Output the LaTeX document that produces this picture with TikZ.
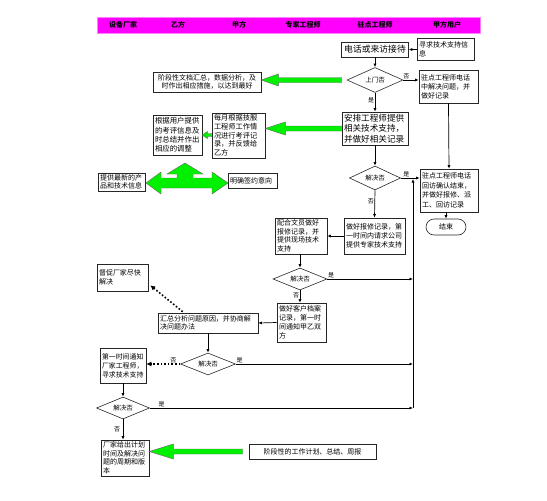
\documentclass[tikz,border=0pt]{standalone}
\usepackage{fontspec}
\setmainfont{Noto Sans CJK SC}
\usetikzlibrary{arrows.meta,shapes.geometric,calc}
\definecolor{hdrmag}{RGB}{255,0,255}
\definecolor{grn}{RGB}{0,240,0}
\newcommand\gleft[5]{%
  \path[garrow] let \p1=(#1), \p2=(#2) in
   (\x1,\y1) -- (\x1+#5pt,\y1+#4pt) -- (\x1+#5pt,\y1+#3pt) -- (\x2,\y1+#3pt)
   -- (\x2,\y1-#3pt) -- (\x1+#5pt,\y1-#3pt) -- (\x1+#5pt,\y1-#4pt) -- cycle;}
\begin{document}
\begin{tikzpicture}[x=1pt,y=-1pt,
  box/.style={draw=black!85, line width=0.6pt, fill=white, inner xsep=2pt, inner ysep=1pt,
    align=left, font=\fontsize{7}{8.8}\selectfont},
  dia/.style={draw=black!85, line width=0.6pt, diamond, aspect=2.4, inner sep=0pt,
    font=\fontsize{6.5}{7}\selectfont},
  lbl/.style={font=\fontsize{6}{7}\selectfont, inner sep=0.5pt},
  hd/.style={font=\fontsize{7}{8}\selectfont\bfseries, inner sep=0pt},
  conn/.style={draw=black, line width=0.7pt, -{Latex[length=3.5pt,width=3pt]}},
  dots/.style={draw=black, line width=1.6pt, dotted, -{Latex[length=5pt,width=5pt]}},
  garrow/.style={fill=grn, draw=black!60, line width=0.4pt}]
\path[use as bounding box] (0,0) rectangle (547,501);

% header
\node[draw=hdrmag!50!white, fill=hdrmag, minimum width=383pt, minimum height=16pt, inner sep=0pt] (hdr) at (288.5,25) {};
\node[hd] (h1) at (123,25) {设备厂家};
\node[hd] (h2) at (178,25) {乙方};
\node[hd] (h3) at (239,25) {甲方};
\node[hd] (h4) at (303,25) {专家工程师};
\node[hd] (h5) at (375,25) {驻点工程师};
\node[hd] (h6) at (447,25) {甲方用户};

% nodes
\node[box, font=\fontsize{8.8}{10}\selectfont, text width=63pt, minimum height=15pt, align=center] (n_phone) at (375,49.5) {电话或来访接待};
\node[box, text width=53pt, minimum height=22pt] (n_seek) at (445.5,49) {寻求技术支持信\\息};
\node[dia, minimum width=56pt, minimum height=25pt] (d_visit) at (375,80) {上门否};
\node[box, text width=55pt, minimum height=33pt, font=\fontsize{7}{9}\selectfont] (n_onsite) at (448.5,86.5) {驻点工程师电话\\中解决问题，并\\做好记录};
\node[box, text width=104pt, minimum height=20pt, align=center, font=\fontsize{7}{8}\selectfont] (n_doc) at (207,82) {阶段性文档汇总，数据分析，及\\时作出相应措施，以达到最好};
\node[box, font=\fontsize{8.6}{10.5}\selectfont, text width=62pt, minimum height=33pt] (n_arrange) at (375,128.5) {安排工程师提供\\相关技术支持，\\并做好相关记录};
\node[box, text width=49pt, minimum height=45pt, font=\fontsize{7.2}{8.7}\selectfont] (n_monthly) at (238.5,135.5) {每月根据技服\\工程师工作情\\况进行考评记\\录，并反馈给\\乙方};
\node[box, text width=45pt, minimum height=40pt, font=\fontsize{7.4}{9.4}\selectfont] (n_feedback) at (177.5,135) {根据用户提供\\的考评信息及\\时总结并作出\\相应的调整};
\node[box, text width=43pt, minimum height=18pt, font=\fontsize{7}{8}\selectfont] (n_latest) at (121.5,182) {提供最新的产\\品和技术信息};
\node[box, text width=45pt, minimum height=15pt] (n_sign) at (252.5,180.5) {明确签约意向};
\node[dia, minimum width=51pt, minimum height=24pt] (d_solve1) at (375,178) {解决否};
\node[box, text width=54pt, minimum height=43pt, font=\fontsize{7}{9.5}\selectfont] (n_revisit) at (449,190.5) {驻点工程师电话\\回访确认结束，\\并做好报修、派\\工、回访记录};
\node[draw=black!85, line width=0.6pt, rounded corners=8pt, minimum width=40pt, minimum height=16pt, inner sep=0pt, font=\fontsize{7}{8}\selectfont] (n_end) at (446,227) {结束};
\node[box, text width=57pt, minimum height=36pt, font=\fontsize{7}{9}\selectfont] (n_report) at (374.5,236) {做好报修记录，第\\一时间内请求公司\\提供专家技术支持};
\node[box, text width=48pt, minimum height=36pt, font=\fontsize{7}{8.5}\selectfont] (n_assist) at (301,236) {配合文员做好\\报修记录，并\\提供现场技术\\支持};
\node[dia, minimum width=54pt, minimum height=22pt] (d_solve2) at (300,279) {解决否};
\node[box, text width=45pt, minimum height=39pt, font=\fontsize{7}{9}\selectfont] (n_archive) at (301.5,322.5) {做好客户档案\\记录，第一时\\间通知甲乙双\\方};
\node[box, text width=96pt, minimum height=20pt, font=\fontsize{7}{8.5}\selectfont] (n_summary) at (208,323) {汇总分析问题原因，并协商解\\决问题办法};
\node[box, text width=47pt, minimum height=27pt, font=\fontsize{7}{9}\selectfont] (n_urge) at (122.5,277.5) {督促厂家尽快\\解决};
\node[dia, minimum width=55pt, minimum height=22pt] (d_solve3) at (208,364) {解决否};
\node[box, text width=42pt, minimum height=35pt, font=\fontsize{6.9}{9}\selectfont] (n_notify) at (123,365.5) {第一时间通知\\厂家工程师，\\寻求技术支持};
\node[dia, minimum width=53pt, minimum height=22pt] (d_solve4) at (123,408) {解决否};
\node[box, text width=44pt, minimum height=36pt, font=\fontsize{7}{8.5}\selectfont] (n_plan) at (125,458) {厂家给出计划\\时间及解决问\\题的周期和版\\本};
\node[box, text width=123pt, minimum height=15pt, align=center] (n_stage) at (312.5,451.5) {阶段性的工作计划、总结、周报};

\coordinate (busTop) at (413,179);
\coordinate (busBot) at (413,408);

% connectors
\draw[conn] (n_seek.west |- n_phone.east) -- (n_phone.east);
\draw[conn] (n_phone.south) -- (d_visit.north);
\draw[conn] (d_visit.east) -- node[lbl, above, pos=0.2]{否} (d_visit.east -| n_onsite.west);
\draw[conn] (d_visit.south) -- node[lbl, left, pos=0.4]{是} (n_arrange.north);
\draw[conn] (n_onsite.south) -- (n_revisit.north);
\draw[conn] (n_arrange.south) -- (d_solve1.north);
\draw[conn] (d_solve1.east) -- node[lbl, above, pos=0.3]{是} (d_solve1.east -| n_revisit.west);
\draw[conn] (n_revisit.south -| n_end.north) -- (n_end.north);
\draw[conn] (d_solve1.south) -- node[lbl, left, pos=0.4]{否} (n_report.north);
\draw[conn] (n_report.west) -- (n_assist.east);
\draw[conn] (n_assist.south -| d_solve2.north) -- (d_solve2.north);
\draw[conn] (d_solve2.east) node[lbl, anchor=south west]{是} -- (d_solve2.east -| busTop);
\draw[conn] (d_solve2.south) -- node[lbl, left, pos=0.45]{否} (d_solve2.south |- n_archive.north);
\draw[conn] (n_archive.west) -- (n_summary.east);
\draw[dots] ($(n_summary.north west)+(25,-1)$) -- ($(n_urge.south east)+(2,-6)$);
\draw[conn] (n_summary.south) -- (d_solve3.north);
\draw[conn] (d_solve3.east) node[lbl, anchor=south west]{是} -- (d_solve3.east -| busTop);
\draw[dots] (d_solve3.west) -- node[lbl, above, pos=0.2]{否} (n_notify.east |- d_solve3.west);
\draw[conn] (n_notify.south) -- (d_solve4.north);
\draw[conn] (d_solve4.east) node[lbl, anchor=south west, xshift=8pt]{是} -- (d_solve4.east -| busTop);
\draw[conn] (d_solve4.south) -- node[lbl, left, pos=0.5, xshift=-2pt]{否} (d_solve4.south |- n_plan.north);
\draw[conn] (busBot) -- (busTop);

% green block arrows
\gleft{n_doc.east |- d_visit.west}{$(d_visit.west)+(-5,0)$}{2.5}{6}{17}
\gleft{n_monthly.east |- n_arrange.west}{n_arrange.west}{2.5}{6.5}{20}
\gleft{n_feedback.east}{n_monthly.west}{1.5}{3.5}{5}
\gleft{n_plan.east |- n_stage.west}{$(n_stage.west)+(-6,0)$}{2.5}{7.5}{24}
\path[garrow] (185,163) -- (203,174) -- (193,174) -- (193,178) -- (212,178) -- (212,172)
  -- (228,183) -- (212,194) -- (212,188) -- (161,188) -- (161,194) -- (146,183)
  -- (161,172) -- (161,178) -- (177,178) -- (177,174) -- (167,174) -- cycle;
\end{tikzpicture}
\end{document}
